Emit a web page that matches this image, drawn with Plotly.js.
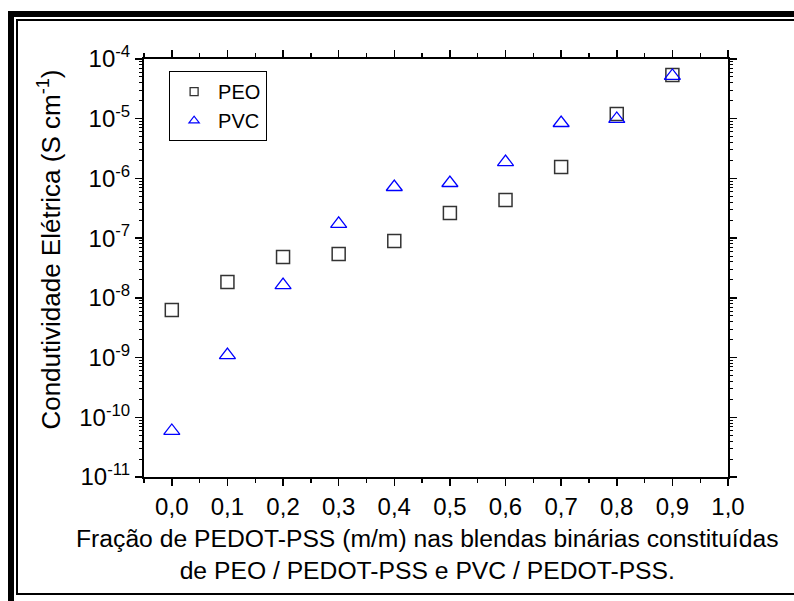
<!DOCTYPE html>
<html>
<head>
<meta charset="utf-8">
<script src="https://cdn.plot.ly/plotly-3.0.1.min.js"></script>
<style>
  html, body { margin: 0; padding: 0; background: #fff; }
  #wrap { position: relative; width: 794px; height: 601px; overflow: hidden; }
  #chart { position: absolute; left: 0; top: 0; width: 794px; height: 601px; }
  .frame { position: absolute; background: #000; pointer-events: none; }
</style>
</head>
<body>
<div id="wrap">
  <div id="chart"></div>
  <div class="frame" style="left:8px; top:11px; width:786px; height:6px;"></div>
  <div class="frame" style="left:8px; top:11px; width:6px; height:590px;"></div>
  <div class="frame" style="left:16px; top:19px; width:778px; height:2px;"></div>
  <div class="frame" style="left:16px; top:19px; width:2px; height:576px;"></div>
  <div class="frame" style="left:16px; top:593px; width:778px; height:2px;"></div>
</div>
<script>
// Data
const fracao = [0.0, 0.1, 0.2, 0.3, 0.4, 0.5, 0.6, 0.7, 0.8, 0.9];
const peo = [6.25e-9, 1.84e-8, 4.83e-8, 5.42e-8, 8.95e-8, 2.64e-7, 4.35e-7, 1.55e-6, 1.2e-5, 5.4e-5];
const pvc = [5.9e-11, 1.1e-9, 1.64e-8, 1.73e-7, 7.18e-7, 8.38e-7, 1.88e-6, 8.47e-6, 9.9e-6, 5.2e-5];

const xTickVals = [0.0, 0.1, 0.2, 0.3, 0.4, 0.5, 0.6, 0.7, 0.8, 0.9, 1.0];
const xTickText = ['0,0', '0,1', '0,2', '0,3', '0,4', '0,5', '0,6', '0,7', '0,8', '0,9', '1,0'];
const yTickVals = [1e-11, 1e-10, 1e-9, 1e-8, 1e-7, 1e-6, 1e-5, 1e-4];
const yTickText = ['10<sup>-11</sup>', '10<sup>-10</sup>', '10<sup>-9</sup>', '10<sup>-8</sup>',
                   '10<sup>-7</sup>', '10<sup>-6</sup>', '10<sup>-5</sup>', '10<sup>-4</sup>'];

const seriesNames = ['PEO', 'PVC'];
const xTitle = 'Fração de PEDOT-PSS (m/m) nas blendas binárias constituídas<br>de PEO / PEDOT-PSS e PVC / PEDOT-PSS.';
const yTitle = 'Condutividade Elétrica (S cm<sup>-1</sup>)';

const FONT = '"Liberation Sans", Arial, sans-serif';

const traces = [
  { x: fracao, y: peo, mode: 'markers', type: 'scatter', name: seriesNames[0], showlegend: false,
    marker: { symbol: 'square-open', size: 13, color: '#333333', line: { width: 1.5, color: '#333333' } } },
  { x: fracao, y: pvc, mode: 'markers', type: 'scatter', name: seriesNames[1], showlegend: false,
    marker: { symbol: 'triangle-up-open', size: 14, color: '#0000ff', line: { width: 1.3, color: '#0000ff' } } },
  // legend entries (smaller symbols as in the reference)
  { x: [null], y: [null], mode: 'markers', type: 'scatter', name: seriesNames[0],
    marker: { symbol: 'square-open', size: 8, color: '#333333', line: { width: 1.3, color: '#333333' } } },
  { x: [null], y: [null], mode: 'markers', type: 'scatter', name: seriesNames[1],
    marker: { symbol: 'triangle-up-open', size: 9, color: '#0000ff', line: { width: 1.2, color: '#0000ff' } } }
];

const layout = {
  width: 794, height: 601,
  margin: { l: 144, r: 66, t: 59, b: 124 },
  paper_bgcolor: '#ffffff', plot_bgcolor: '#ffffff',
  font: { family: FONT, color: '#000000', size: 23 },
  showlegend: true,
  legend: {
    x: 0.043, y: 0.971, xanchor: 'left', yanchor: 'top',
    bordercolor: '#000000', borderwidth: 1, bgcolor: '#ffffff',
    font: { family: FONT, size: 20, color: '#000000' },
    tracegroupgap: 0, itemwidth: 38
  },
  xaxis: {
    range: [-0.05, 1.0], tickmode: 'array', tickvals: xTickVals, ticktext: xTickText,
    showline: true, linecolor: '#000000', linewidth: 2, mirror: 'ticks',
    ticks: 'outside', ticklen: 7, tickwidth: 1.5, tickcolor: '#000000',
    minor: { tick0: 0, dtick: 0.05, ticks: 'outside', ticklen: 4, tickwidth: 1.3, tickcolor: '#000000', showgrid: false },
    showgrid: false, zeroline: false,
    tickfont: { family: FONT, size: 24, color: '#000000' }
  },
  yaxis: {
    type: 'log', range: [-11, -4], tickmode: 'array', tickvals: yTickVals, ticktext: yTickText,
    showline: true, linecolor: '#000000', linewidth: 2, mirror: 'ticks',
    ticks: 'outside', ticklen: 7, tickwidth: 1.5, tickcolor: '#000000',
    minor: { dtick: 'D1', ticks: 'outside', ticklen: 3, tickwidth: 1, tickcolor: '#000000', showgrid: false },
    showgrid: false, zeroline: false,
    tickfont: { family: FONT, size: 24, color: '#000000' }
  },
  annotations: [
    { text: yTitle, xref: 'paper', yref: 'paper', x: -0.162, y: 0.545, xanchor: 'center', yanchor: 'middle',
      textangle: -90, showarrow: false, font: { family: FONT, size: 26, color: '#000000' } },
    { text: xTitle, xref: 'paper', yref: 'paper', x: 0.485, y: -0.11, xanchor: 'center', yanchor: 'top',
      showarrow: false, align: 'center', font: { family: FONT, size: 24.7, color: '#000000' } }
  ]
};

Plotly.newPlot('chart', traces, layout, { displayModeBar: false, staticPlot: true });
</script>
</body>
</html>
